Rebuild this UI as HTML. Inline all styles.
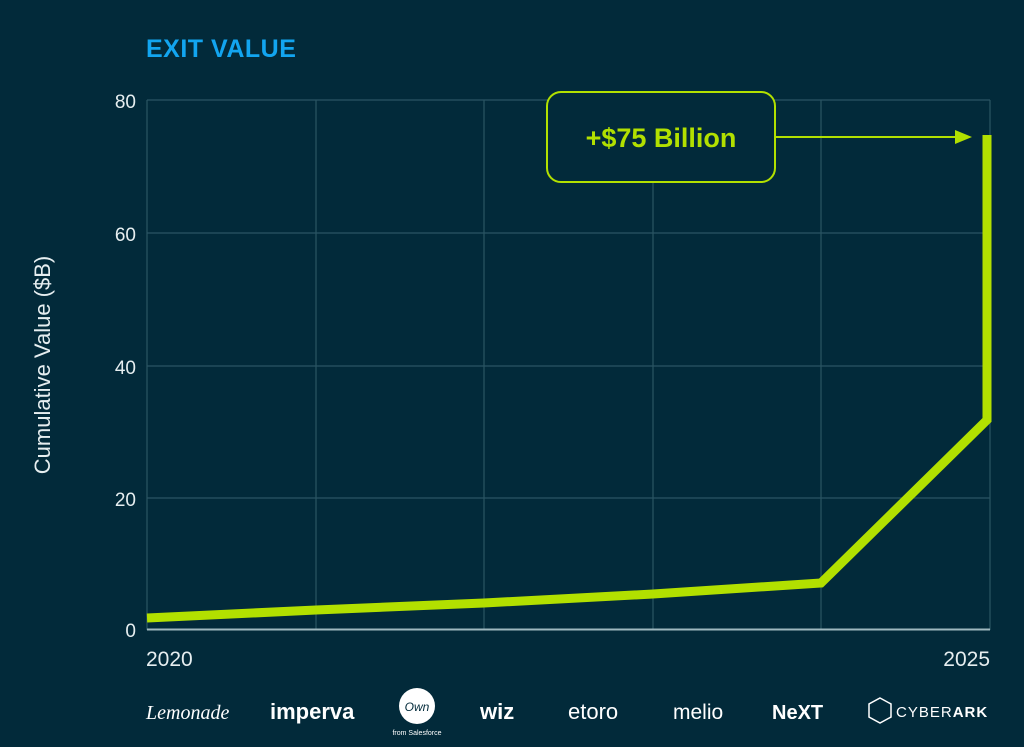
<!DOCTYPE html>
<html><head><style>
body{margin:0;width:1024px;height:742px;background:#022a3a;overflow:hidden;font-family:"Liberation Sans",sans-serif}
</style></head><body>
<svg width="1024" height="742" viewBox="0 0 1024 742" xmlns="http://www.w3.org/2000/svg">
<rect width="1024" height="742" fill="#022a3a"/>
<text x="146" y="57" fill="#12a5f0" font-size="25" font-weight="bold" letter-spacing="0.5">EXIT VALUE</text>
<g stroke="#2b5563" stroke-width="1.2">
<line x1="147" y1="100" x2="990" y2="100"/><line x1="147" y1="233" x2="990" y2="233"/>
<line x1="147" y1="366" x2="990" y2="366"/><line x1="147" y1="498" x2="990" y2="498"/>
<line x1="147" y1="100" x2="147" y2="630"/><line x1="316" y1="100" x2="316" y2="630"/>
<line x1="484" y1="100" x2="484" y2="630"/><line x1="653" y1="100" x2="653" y2="630"/>
<line x1="821" y1="100" x2="821" y2="630"/><line x1="990" y1="100" x2="990" y2="630"/>
</g>
<line x1="147" y1="629.5" x2="990" y2="629.5" stroke="#9fb8bf" stroke-width="2"/>
<g fill="#e6eef0" font-size="19" text-anchor="end">
<text x="136" y="108">80</text><text x="136" y="241">60</text><text x="136" y="374">40</text><text x="136" y="506">20</text><text x="136" y="637">0</text>
</g>
<text x="146" y="666" fill="#e6eef0" font-size="21">2020</text>
<text x="990" y="666" fill="#e6eef0" font-size="21" text-anchor="end">2025</text>
<text transform="translate(50,365) rotate(-90)" fill="#e6eef0" font-size="22" text-anchor="middle">Cumulative Value ($B)</text>
<polyline points="147,618 316,610 484,603 653,594 821,583 987,420 987,135" fill="none" stroke="#b2e000" stroke-width="9"/>
<rect x="547" y="92" width="228" height="90" rx="14" fill="#022a3a" stroke="#b2e000" stroke-width="2"/>
<text x="661" y="147" fill="#b2e000" font-size="27" font-weight="bold" text-anchor="middle">+$75 Billion</text>
<line x1="775" y1="137" x2="958" y2="137" stroke="#b2e000" stroke-width="2"/>
<polygon points="972,137 955,130 955,144" fill="#b2e000"/>
<g fill="#ffffff">
<text x="146" y="719" font-size="20" font-style="italic" font-family="Liberation Serif,serif">Lemonade</text>
<text x="270" y="719" font-size="22" font-weight="bold">imperva</text>
<circle cx="417" cy="706" r="18" fill="#fff"/>
<text x="417" y="711" font-size="12" font-style="italic" fill="#022a3a" text-anchor="middle">Own</text>
<text x="417" y="735" font-size="7" text-anchor="middle">from Salesforce</text>
<text x="480" y="719" font-size="22" font-weight="bold">wiz</text>
<text x="568" y="719" font-size="22">etoro</text>
<text x="673" y="719" font-size="21">melio</text>
<text x="772" y="719" font-size="20" font-weight="bold">NeXT</text>
<polygon points="880,698 891,704 891,717 880,723 869,717 869,704" fill="none" stroke="#fff" stroke-width="1.5"/>
<text x="896" y="717" font-size="15" letter-spacing="1">CYBER<tspan font-weight="bold">ARK</tspan></text>
</g>
</svg>
</body></html>
